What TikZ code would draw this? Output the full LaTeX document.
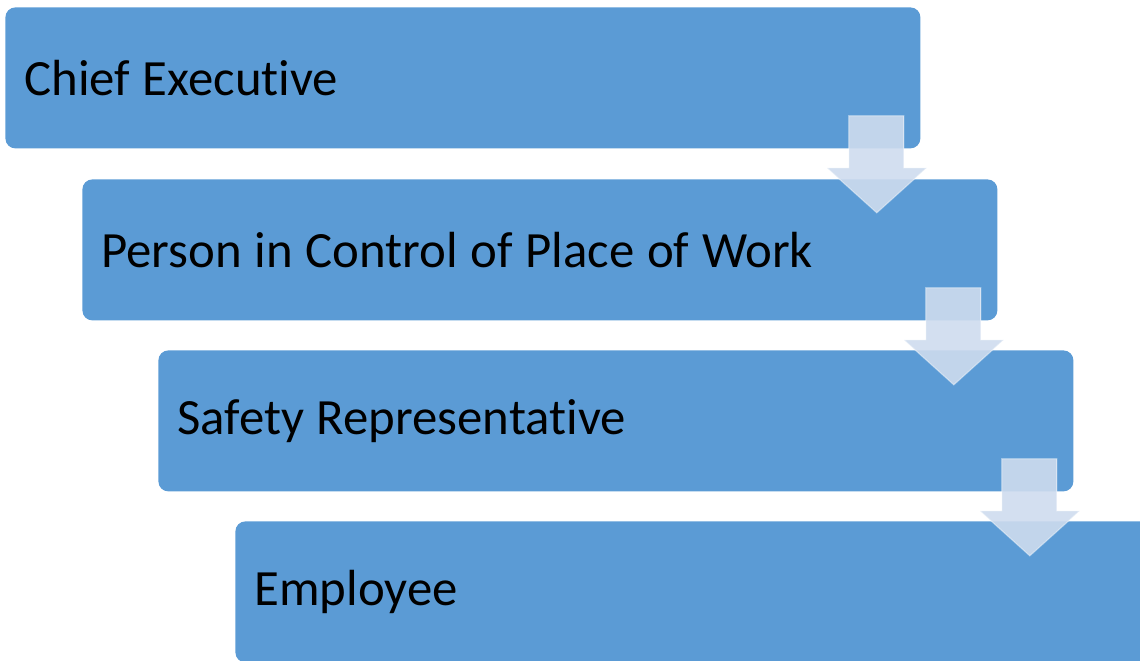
\documentclass[tikz,border=0pt]{standalone}
\usepackage{fontspec}
\setmainfont{Carlito}[Ligatures=NoCommon, WordSpace=1.1]
\usetikzlibrary{calc}
\definecolor{boxblue}{RGB}{91,155,213}
\definecolor{arrowpale}{RGB}{206,220,238}
\tikzset{
  levelbox/.style={rectangle, rounded corners=5pt, fill=boxblue, anchor=north west,
    minimum width=457.5pt, minimum height=70.5pt, text width=438.5pt,
    inner xsep=9.5pt, inner ysep=0pt, align=flush left, font=\fontsize{25.4}{29}\selectfont},
  downarrow/.style={fill=arrowpale, fill opacity=0.9, draw=white, draw opacity=0.4, line width=0.6pt}
}
\newcommand{\stepdown}[1]{%
  \draw[downarrow] ($(#1.south east)+(-72,-33)$) -- ($(#1.south east)+(-17,-33)$)
    -- ($(#1.south east)+(-17,19)$) -- ($(#1.south east)+(6,19)$)
    -- ($(#1.south east)+(-44,64)$) -- ($(#1.south east)+(-94,19)$)
    -- ($(#1.south east)+(-72,19)$) -- cycle;}
\begin{document}
\begin{tikzpicture}[x=0.5pt,y=-0.5pt]
\useasboundingbox (0,0) rectangle (1140,660);
\clip (0,0) rectangle (1140,660);
\node[levelbox] (chief) at (5,7) {Chief Executive};
\node[levelbox] (person) at (82,179) {Person in Control of Place of Work};
\node[levelbox] (rep) at (158,350) {Safety Representative};
\node[levelbox] (employee) at (235,521) {Employee};
\stepdown{chief}
\stepdown{person}
\stepdown{rep}
\end{tikzpicture}
\end{document}
